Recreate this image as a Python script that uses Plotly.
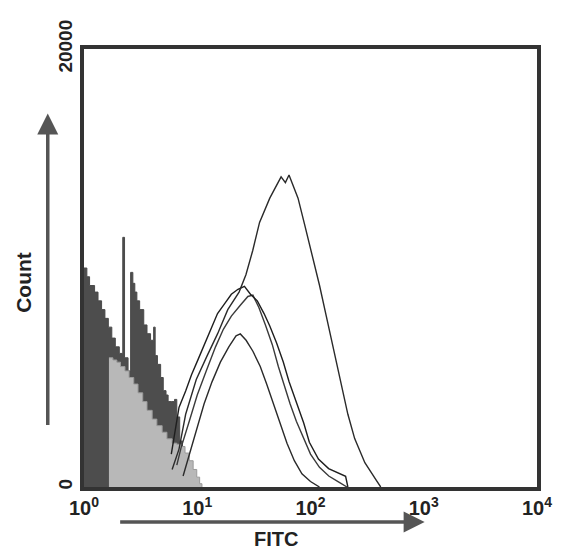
import plotly.graph_objects as go

# ---- data ----
# Dark filled histogram (FITC value, count)
dark_x = [1.00, 1.06, 1.12, 1.24, 1.33, 1.43, 1.53, 1.64, 1.76, 1.89, 2.05, 2.20, 2.28,
          2.45, 2.58, 2.70, 2.81, 2.93, 3.10, 3.37, 3.60, 3.87, 4.12, 4.25, 4.45, 4.75,
          5.01, 5.30, 5.53, 5.90, 6.30, 6.60, 7.00, 7.40]
dark_y = [10000, 9600, 9200, 8900, 8500, 8100, 7700, 7300, 6800, 6400, 6100, 11400, 5900,
          5300, 9800, 9300, 8900, 8500, 8100, 7400, 7000, 6700, 7300, 6000, 5600, 5000,
          4400, 4200, 3900, 3900, 4000, 3200, 2100, 0]

# Light grey filled histogram
grey_x = [1.66, 1.80, 1.95, 2.10, 2.30, 2.50, 2.75, 3.00, 3.30, 3.60, 4.00, 4.40, 4.90,
          5.40, 6.00, 6.60, 7.20, 7.80, 8.50, 9.20, 9.90, 10.5, 11.0]
grey_y = [5900, 5800, 5700, 5500, 5300, 5000, 4700, 4300, 3900, 3500, 3100, 2800, 2500,
          2200, 2000, 1950, 1850, 1550, 1200, 800, 450, 150, 0]

# Outline histograms
a_x = [6.0, 6.9, 7.9, 9.8, 12.3, 15.1, 18.6, 23.4, 26.9, 30.9, 35.5, 43.7, 55.0, 60.0,
       64.6, 77.6, 89.1, 104.7, 120.2, 138.0, 158.5, 186.2, 213.8, 245.5, 302.0, 380.2, 416.9]
a_y = [800, 1730, 3320, 4910, 6020, 6990, 8100, 8900, 9690, 10800, 12080, 13190, 14160, 13900,
       14250, 13190, 11950, 10490, 9200, 7790, 6370, 4780, 3320, 2210, 1110, 310, 0]

b_x = [5.9, 6.5, 6.9, 7.9, 8.9, 10.2, 11.7, 13.2, 15.1, 17.4, 20.0, 22.9, 26.1, 29.5,
       33.9, 38.9, 43.7, 50.1, 57.5, 64.6, 74.1, 87.1, 97.7, 117.5, 144.5, 177.8, 204.2, 213.8]
b_y = [1500, 2740, 3630, 4380, 5130, 5840, 6590, 7170, 7920, 8360, 8800, 9030, 9160, 8800,
       8500, 7920, 7350, 6590, 5710, 4820, 3940, 2920, 2040, 1280, 840, 620, 490, 0]

c_x = [6.6, 7.2, 8.5, 10.0, 12.0, 14.5, 17.0, 20.0, 24.0, 28.0, 31.0, 35.0, 40.0, 46.0,
       52.0, 58.0, 66.0, 75.0, 87.0, 100.0, 120.0, 145.0, 175.0, 210.0]
c_y = [1000, 1800, 3000, 4200, 5300, 6400, 7200, 7800, 8300, 8700, 8760, 8200, 7400, 6500,
       5500, 4700, 3800, 3000, 2200, 1500, 900, 500, 250, 0]

d_x = [7.5, 8.5, 10.0, 11.5, 13.5, 16.0, 19.0, 22.0, 24.0, 27.0, 31.0, 36.0, 41.0, 47.0,
       54.0, 62.0, 72.0, 84.0, 100.0, 120.0]
d_y = [500, 1500, 2700, 3800, 4800, 5700, 6400, 6900, 6990, 6700, 6200, 5500, 4700, 3800,
       2900, 2000, 1200, 600, 250, 0]

x_tickvals = [1, 10, 100, 1000, 10000]
x_ticktext = ["<b>10<sup>0</sup></b>", "<b>10<sup>1</sup></b>", "<b>10<sup>2</sup></b>",
              "<b>10<sup>3</sup></b>", "<b>10<sup>4</sup></b>"]
y_tickvals = [0, 20000]
y_ticktext = ["<b>0</b>", "<b>20000</b>"]

FONT = "Liberation Sans, Arial, sans-serif"

fig = go.Figure()
fig.add_trace(go.Scatter(x=dark_x, y=dark_y, mode="lines", line=dict(shape="hv", color="#4a4a4a", width=1),
                         fill="tozeroy", fillcolor="#4d4d4d", hoverinfo="skip"))
fig.add_trace(go.Scatter(x=grey_x, y=grey_y, mode="lines", line=dict(shape="hv", color="#9a9a9a", width=1),
                         fill="tozeroy", fillcolor="#b8b8b8", hoverinfo="skip"))
for xs, ys, col in [(d_x, d_y, "#2a2a2a"), (c_x, c_y, "#3a3a3a"), (b_x, b_y, "#1e1e1e"), (a_x, a_y, "#2a2a2a")]:
    fig.add_trace(go.Scatter(x=xs, y=ys, mode="lines", line=dict(color=col, width=1.4),
                             hoverinfo="skip"))

# page body has an 8px default margin, so the figure is slightly smaller and shifted
fig.update_layout(
    width=556, height=546,
    margin=dict(l=76, r=20, t=30, b=67),
    paper_bgcolor="white", plot_bgcolor="white",
    showlegend=False,
    font=dict(family=FONT, color="#222"),
)
fig.update_xaxes(type="log", range=[0, 4], tickvals=x_tickvals, ticktext=x_ticktext,
                 showgrid=False, zeroline=False, showline=True, mirror=True,
                 linecolor="#333", linewidth=4, ticks="", tickfont=dict(size=20, family=FONT, color="#222"))
fig.update_yaxes(range=[0, 20000], tickvals=y_tickvals, ticktext=y_ticktext, tickangle=-90,
                 showgrid=False, zeroline=False, showline=True, mirror=True,
                 linecolor="#333", linewidth=4, ticks="", tickfont=dict(size=19, family=FONT, color="#222"))

# arrows and axis titles
fig.add_annotation(xref="paper", yref="paper", x=0.752, y=-0.080, ax=-306, ay=0,
                   text="", showarrow=True,
                   arrowhead=2, arrowsize=1.2, arrowwidth=3.5, arrowcolor="#555")
fig.add_annotation(xref="paper", yref="paper", x=-0.080, y=0.853, ax=0, ay=313,
                   text="", showarrow=True,
                   arrowhead=2, arrowsize=1.2, arrowwidth=3.5, arrowcolor="#555")
fig.add_annotation(xref="paper", yref="paper", x=-0.135, y=0.468, text="<b>Count</b>",
                   xanchor="center", yanchor="middle",
                   textangle=-90, showarrow=False, font=dict(size=21, family=FONT, color="#222"))
fig.add_annotation(xref="paper", yref="paper", x=0.424, y=-0.119, text="<b>FITC</b>",
                   xanchor="center", yanchor="middle",
                   showarrow=False, font=dict(size=20, family=FONT, color="#222"))

fig.write_html("out.html")
